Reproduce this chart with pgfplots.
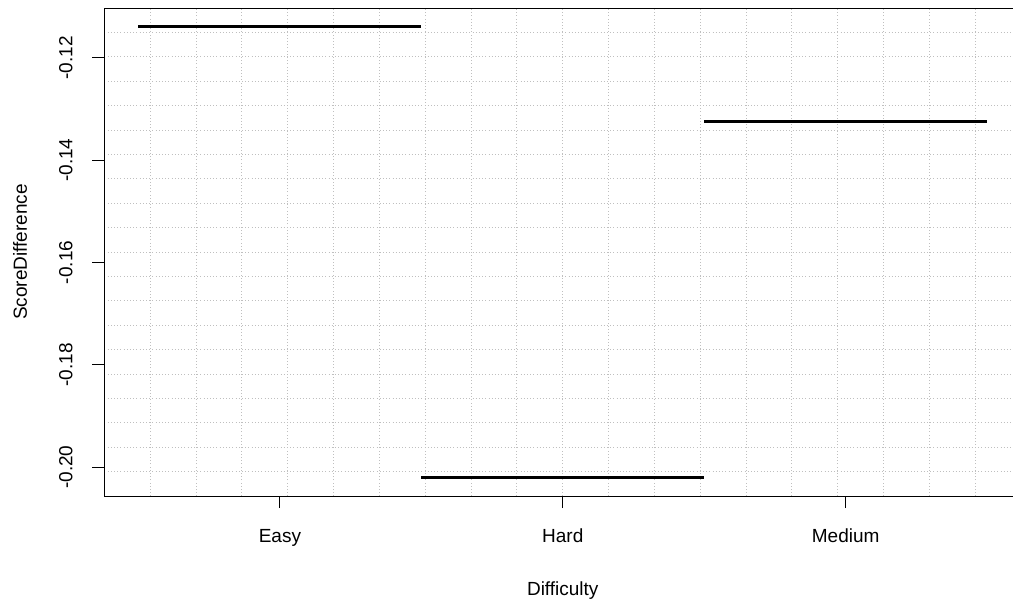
\documentclass[border=0pt]{standalone}
\usepackage{fontspec}
\setmainfont{Liberation Sans}
\usepackage{pgfplots}
\pgfplotsset{compat=1.18}
\begin{document}
\begin{tikzpicture}
\begin{axis}[
  at={(0,0)}, anchor=south west,
  scale only axis,
  width=687.4pt, height=366pt,
  xmin=0.38, xmax=3.62,
  ymin=-0.205632, ymax=-0.110268,
  axis line style={black, line width=0.75pt},
  xtick={1,2,3},
  xticklabels={Easy,Hard,Medium},
  ytick={-0.20,-0.18,-0.16,-0.14,-0.12},
  yticklabels={-0.20,-0.18,-0.16,-0.14,-0.12},
  xtick pos=left, ytick pos=left,
  tick align=outside,
  major tick length=9pt,
  minor tick length=0pt,
  tick style={black, line width=0.75pt},
  minor xtick={0.542,0.704,0.866,1.028,1.19,1.352,1.514,1.676,1.838,2.0,2.162,2.324,2.486,2.648,2.81,2.972,3.134,3.296,3.458},
  minor ytick={-0.200864,-0.196096,-0.191327,-0.186559,-0.181791,-0.177023,-0.172255,-0.167486,-0.162718,-0.157950,-0.153182,-0.148414,-0.143645,-0.138877,-0.134109,-0.129341,-0.124573,-0.119804,-0.115036},
  grid=minor,
  minor grid style={lightgray, dotted, line width=0.75pt},
  every tick label/.append style={font=\fontsize{14.25}{17}\selectfont},
  xticklabel style={anchor=center, text height=10.5pt, text depth=3pt, yshift=-22pt},
  yticklabel style={anchor=center, rotate=90, yshift=20pt},
  xlabel={Difficulty},
  ylabel={ScoreDifference},
  label style={font=\fontsize{14.25}{17}\selectfont},
  xlabel style={at={(axis description cs:0.5,-0.1945)}, anchor=center, text height=10.5pt, text depth=3pt},
  ylabel style={at={(axis description cs:-0.0922,0.5)}, anchor=center},
]
\addplot[black, line width=2.25pt, line cap=butt] coordinates {(0.5,-0.1138) (1.5,-0.1138)};
\addplot[black, line width=2.25pt, line cap=butt] coordinates {(1.5,-0.2021) (2.5,-0.2021)};
\addplot[black, line width=2.25pt, line cap=butt] coordinates {(2.5,-0.1324) (3.5,-0.1324)};
\end{axis}
\pgfresetboundingbox
\useasboundingbox (-78.375pt,-78pt) rectangle (681.375pt,372pt);
\end{tikzpicture}
\end{document}
